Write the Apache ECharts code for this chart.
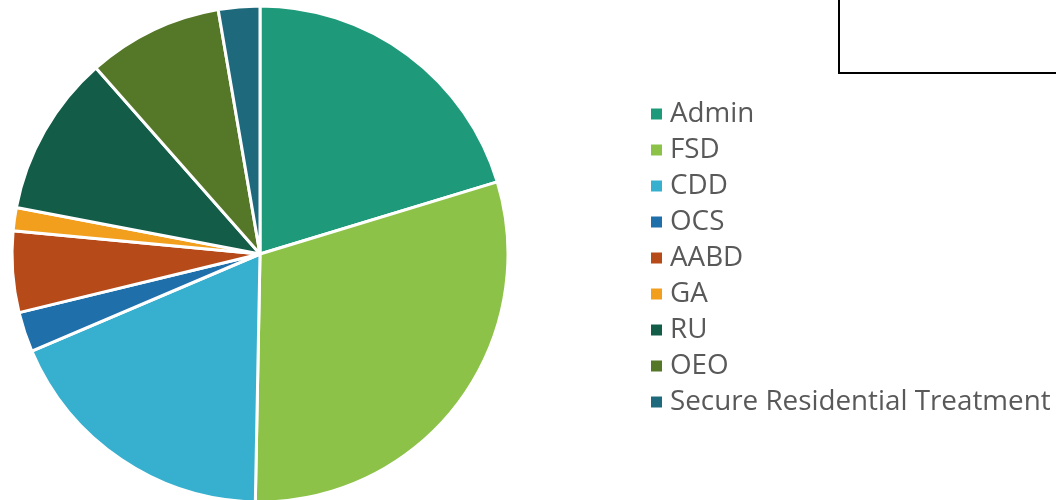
<!DOCTYPE html>
<html>
<head>
<meta charset="utf-8">
<script src="https://cdn.jsdelivr.net/npm/echarts@6/dist/echarts.min.js"></script>
<style>html,body{margin:0;padding:0;background:#fff}#c{width:1056px;height:500px}</style>
</head>
<body>
<div id="c"></div>
<script>
const categories = ['Admin','FSD','CDD','OCS','AABD','GA','RU','OEO','Secure Residential Treatment'];
const values = [20.3, 30.0, 18.3, 2.6, 5.3, 1.5, 10.5, 8.8, 2.7];
const colors = ['#1e9a7a','#8dc248','#37afce','#1f6fab','#b64a19','#f39f1e','#125c48','#557728','#1e6a7c'];

const chart = echarts.init(document.getElementById('c'), null, {renderer:'canvas'});
chart.setOption({
  animation:false,
  color: colors,
  legend:{
    orient:'vertical', left:644, top:95,
    icon:'rect', itemWidth:13, itemHeight:13, itemGap:8,
    textStyle:{fontFamily:'Open Sans', fontSize:27.8, color:'#595959', lineHeight:26, padding:[0,0,0,2]},
    data: categories
  },
  graphic:[{type:'rect', shape:{x:839, y:-10, width:300, height:83}, style:{fill:'none', stroke:'#000', lineWidth:2}}],
  series:[{
    type:'pie', center:[260,254], radius:248, startAngle:90, clockwise:true,
    label:{show:false}, labelLine:{show:false},
    itemStyle:{borderColor:'#fff', borderWidth:3},
    emphasis:{disabled:true},
    data: categories.map((n,i)=>({name:n, value:values[i]}))
  }]
});
</script>
</body>
</html>
